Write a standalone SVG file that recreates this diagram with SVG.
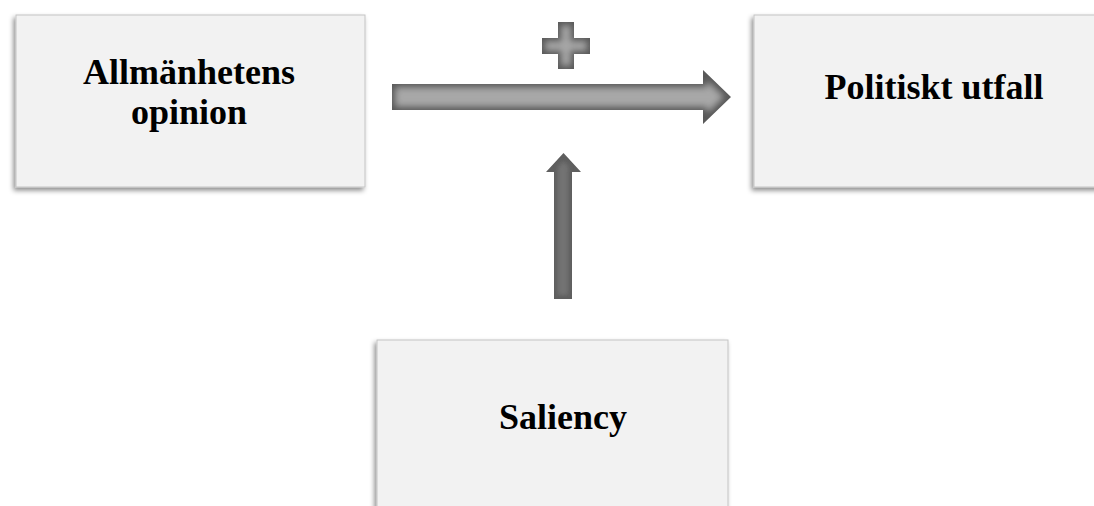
<svg xmlns="http://www.w3.org/2000/svg" width="1094" height="506" viewBox="0 0 1094 506">
<style>
.box{fill:#f2f2f2;stroke:#c4c4c4;stroke-width:1;filter:url(#shadow)}
.lbl{font-family:"Liberation Serif","Times New Roman",serif;font-weight:bold;font-size:36px;fill:#000;text-anchor:middle}
</style>
<defs>
<filter id="shadow" x="-10%" y="-10%" width="120%" height="125%">
<feDropShadow dx="-2" dy="3" stdDeviation="2.5" flood-color="#000" flood-opacity="0.45"/>
</filter>
<filter id="glow" x="-10%" y="-30%" width="120%" height="160%">
<feMorphology in="SourceAlpha" operator="erode" radius="4" result="e"/>
<feGaussianBlur in="e" stdDeviation="3" result="b"/>
<feFlood flood-color="#a8a8a8"/>
<feComposite in2="b" operator="in" result="l"/>
<feComposite in="l" in2="SourceAlpha" operator="in" result="lc"/>
<feMerge><feMergeNode in="SourceGraphic"/><feMergeNode in="lc"/></feMerge>
</filter>
<filter id="glowdark" x="-30%" y="-10%" width="160%" height="120%">
<feMorphology in="SourceAlpha" operator="erode" radius="4" result="e"/>
<feGaussianBlur in="e" stdDeviation="2" result="b"/>
<feFlood flood-color="#747474"/>
<feComposite in2="b" operator="in" result="l"/>
<feComposite in="l" in2="SourceAlpha" operator="in" result="lc"/>
<feMerge><feMergeNode in="SourceGraphic"/><feMergeNode in="lc"/></feMerge>
</filter>
</defs>
<rect width="1094" height="506" fill="#fff"/>
<g id="node-opinion">
<rect class="box" x="16" y="15" width="349" height="172"/>
<text class="lbl" x="189" y="84">Allmänhetens</text>
<text class="lbl" x="189" y="124">opinion</text>
</g>
<g id="node-utfall">
<rect class="box" x="754" y="15" width="360" height="172"/>
<text class="lbl" x="934" y="99">Politiskt utfall</text>
</g>
<g id="node-saliency">
<rect class="box" x="377" y="340" width="351" height="190"/>
<text class="lbl" x="563" y="429">Saliency</text>
</g>
<g id="connectors">
<path d="M392 84 H703 V70 L731 97 L703 124 V110 H392 Z" fill="#5a5a5a" filter="url(#glow)"/>
<path d="M558 22 H574 V38 H590 V54 H574 V69 H558 V54 H542 V38 H558 Z" fill="#5a5a5a" filter="url(#glow)"/>
<path d="M554 299 V172 H546 L563.5 153 L581 172 H572 V299 Z" fill="#5e5e5e" filter="url(#glowdark)"/>
</g>
</svg>
